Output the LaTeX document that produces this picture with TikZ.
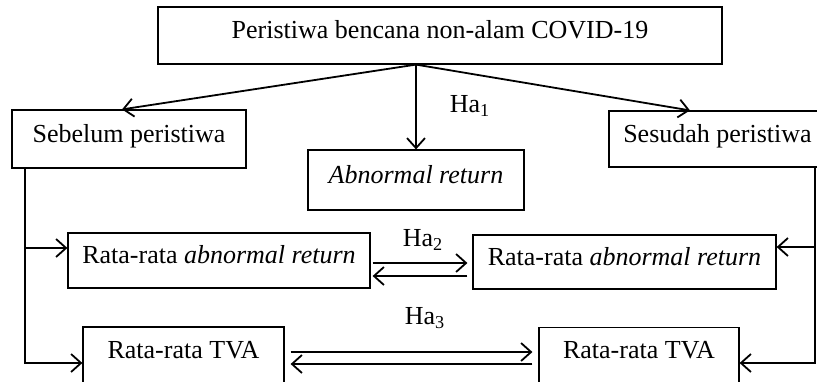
\documentclass[tikz,border=0pt]{standalone}
\usepackage{fontspec}
\setmainfont{Liberation Serif}
\usepackage{tikz}
\usetikzlibrary{arrows.meta}
\usetikzlibrary{calc,positioning}
\tikzset{%
  >={Straight Barb[width=9pt,length=5pt]},
  % Specifications for style of nodes:
  base/.style = {rectangle, draw=black, line width=0.6pt,
    inner sep=0pt,
    text height=9pt, text depth=6pt,
    text centered, font=\fontsize{13}{15}\selectfont},
  link/.style = {->, line width=0.9pt},
  hyp/.style = {font=\fontsize{13}{15}\selectfont},
}

\begin{document}
\begin{tikzpicture}[x=0.5pt, y=-0.5pt]
  \useasboundingbox (0,0) rectangle (817,381);
  % Specification of nodes (position, etc.)
  \node(Event)[base,minimum width=282pt,minimum height=28.5pt] at (440,35.5){Peristiwa bencana non-alam COVID-19};
  \node(Before)[base,minimum width=117pt,minimum height=29pt] at (129,139){Sebelum peristiwa};
  \node(After)[base,minimum width=108.5pt,minimum height=28pt] at (717.5,139){Sesudah peristiwa};
  \node(AR)[base,minimum width=108pt,minimum height=30pt] at (416,180){\itshape Abnormal return};
  \node(AvgARb)[base,minimum width=151pt,minimum height=27.5pt] at (219,260.5){Rata-rata \textit{abnormal return}};
  \node(AvgARa)[base,minimum width=151.5pt,minimum height=27pt] at (624.5,262){Rata-rata \textit{abnormal return}};
  \node(TVAb)[base,minimum width=100.5pt,minimum height=28pt] at (183.5,355){Rata-rata TVA};
  \node(TVAa)[base,minimum width=100pt,minimum height=28pt] at (639,355.5){Rata-rata TVA};
  \node(H1)[hyp] at (470,106){Ha\textsubscript{1}};
  \node(H2)[hyp] at (423,240){Ha\textsubscript{2}};
  \node(H3)[hyp] at (425,318){Ha\textsubscript{3}};
  % Connectors
  \coordinate(Split) at (AR.north |- Event.south);
  \draw[link](Split) -- (AR);
  \draw[link](Split) -- ([xshift=-3.5pt]Before.north);
  \draw[link](Split) -- ([xshift=-13.75pt]After.north);
  \coordinate(TrunkB) at ([xshift=-52pt]Before.south);
  \coordinate(InB) at ([yshift=6.25pt]AvgARb.west);
  \draw[link](TrunkB) |- ([yshift=-4pt]TVAb.west);
  \draw[link](TrunkB |- InB) -- (InB);
  \coordinate(TrunkA) at ([xshift=48.75pt]After.south);
  \coordinate(InA) at ([yshift=7.5pt]AvgARa.east);
  \draw[link](TrunkA) |- ([yshift=-3.75pt]TVAa.east);
  \draw[link](TrunkA |- InA) -- (InA);
  \draw[link,shorten <=1pt,shorten >=2.5pt]([yshift=-1.25pt]AvgARb.east) -- ([yshift=-1.25pt]AvgARb.east -| AvgARa.west);
  \draw[link,shorten <=2.5pt,shorten >=1pt]([yshift=-7.75pt]AvgARb.east -| AvgARa.west) -- ([yshift=-7.75pt]AvgARb.east);
  \draw[link,shorten <=3pt,shorten >=3pt]([yshift=1.5pt]TVAb.east) -- ([yshift=1.5pt]TVAb.east -| TVAa.west);
  \draw[link,shorten <=3pt,shorten >=3pt]([yshift=-4.5pt]TVAb.east -| TVAa.west) -- ([yshift=-4.5pt]TVAb.east);
\end{tikzpicture}
\end{document}
